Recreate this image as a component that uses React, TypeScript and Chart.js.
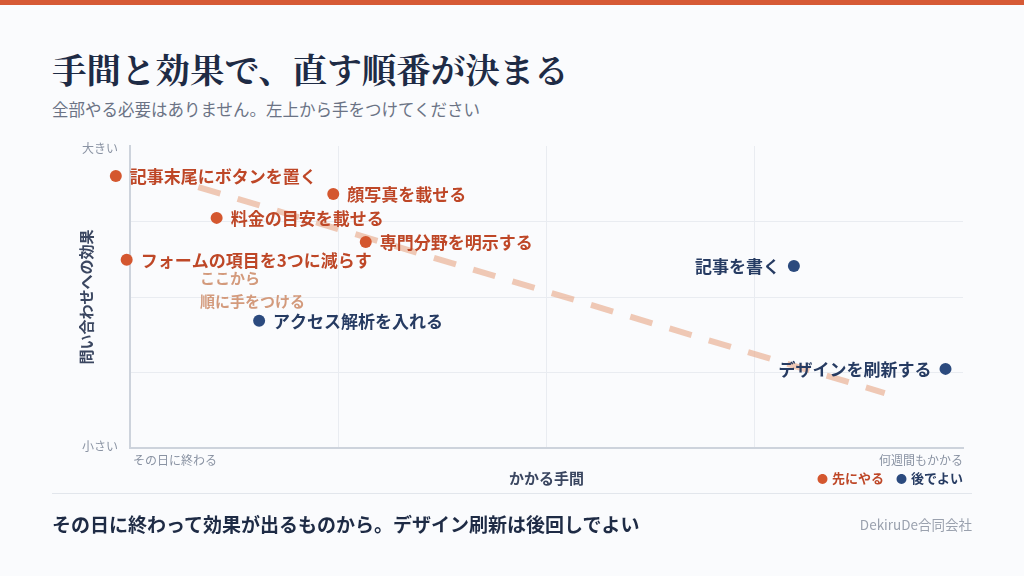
import React, { useEffect, useRef } from "react";
import { Chart, registerables } from "chart.js";

Chart.register(...registerables);

const itemLabels = [
  "記事末尾にボタンを置く",
  "顔写真を載せる",
  "料金の目安を載せる",
  "専門分野を明示する",
  "フォームの項目を3つに減らす",
  "アクセス解析を入れる",
  "記事を書く",
  "デザインを刷新する",
];
const effortValues = [-1.7, 24.4, 10.4, 28.3, -0.4, 15.5, 79.7, 97.9];
const effectValues = [90.1, 84.1, 76.2, 68.2, 62.3, 42.1, 60.3, 26.2];
const doFirst = [true, true, true, true, true, false, false, false];

const guideEffort = [8.2, 90.6];
const guideEffect = [86.4, 18.2];
const guideNoteLines = ["ここから", "順に手をつける"];
const guideNoteEffort = [8.4, 8.4];
const guideNoteEffect = [56.3, 48.7];

const xTickLabels = ["その日に終わる", "何週間もかかる"];
const yTickLabels = ["小さい", "大きい"];
const xTitle = "かかる手間";
const yTitle = "問い合わせへの効果";
const legendLabels = ["先にやる", "後でよい"];

const TITLE = "手間と効果で、直す順番が決まる";
const SUBTITLE = "全部やる必要はありません。左上から手をつけてください";
const FOOTER = "その日に終わって効果が出るものから。デザイン刷新は後回しでよい";
const COMPANY = "DekiruDe合同会社";

const ORANGE = "#D4572F";
const ORANGE_TEXT = "#BE4727";
const NAVY = "#2B4A7E";
const NAVY_TEXT = "#263B62";
const SANS = '"Noto Sans CJK JP", "Noto Sans", sans-serif';

const labelPlugin = {
  id: "labelPlugin",
  afterDatasetsDraw(chart: any) {
    const ctx = chart.ctx;
    const xs = chart.scales.x;
    const ys = chart.scales.y;
    const area = chart.chartArea;
    ctx.save();
    // point labels
    ctx.font = `bold 17px ${SANS}`;
    ctx.textBaseline = "middle";
    itemLabels.forEach((label, i) => {
      const px = xs.getPixelForValue(effortValues[i]);
      const py = ys.getPixelForValue(effectValues[i]);
      ctx.fillStyle = doFirst[i] ? ORANGE_TEXT : NAVY_TEXT;
      if (effortValues[i] > 50) {
        ctx.textAlign = "right";
        ctx.fillText(label, px - 14, py + 1);
      } else {
        ctx.textAlign = "left";
        ctx.fillText(label, px + 14, py + 1);
      }
    });
    // guide note
    ctx.font = `bold 15px ${SANS}`;
    ctx.fillStyle = "#D39A7C";
    ctx.textAlign = "left";
    guideNoteLines.forEach((t, i) => {
      ctx.fillText(t, xs.getPixelForValue(guideNoteEffort[i]), ys.getPixelForValue(guideNoteEffect[i]));
    });
    // tick labels
    ctx.font = `12px ${SANS}`;
    ctx.fillStyle = "#8A93A3";
    ctx.textAlign = "right";
    ctx.fillText(yTickLabels[1], area.left - 12, ys.getPixelForValue(100) + 2);
    ctx.fillText(yTickLabels[0], area.left - 12, ys.getPixelForValue(0) - 2);
    ctx.textAlign = "left";
    ctx.fillText(xTickLabels[0], area.left + 3, area.bottom + 12);
    ctx.textAlign = "right";
    ctx.fillText(xTickLabels[1], area.right, area.bottom + 12);
    // axis titles
    ctx.font = `bold 15px ${SANS}`;
    ctx.fillStyle = "#3A4660";
    ctx.textAlign = "center";
    ctx.fillText(xTitle, (area.left + area.right) / 2, area.bottom + 30);
    ctx.save();
    ctx.translate(area.left - 44, (area.top + area.bottom) / 2);
    ctx.rotate(-Math.PI / 2);
    ctx.fillText(yTitle, 0, 0);
    ctx.restore();
    ctx.restore();
  },
};

export default function App() {
  const canvasRef = useRef<HTMLCanvasElement | null>(null);

  useEffect(() => {
    if (!canvasRef.current) return;
    const firstPts = effortValues
      .map((x, i) => ({ x, y: effectValues[i], f: doFirst[i] }))
      .filter((p) => p.f)
      .map((p) => ({ x: p.x, y: p.y }));
    const laterPts = effortValues
      .map((x, i) => ({ x, y: effectValues[i], f: doFirst[i] }))
      .filter((p) => !p.f)
      .map((p) => ({ x: p.x, y: p.y }));
    const guidePts = guideEffort.map((x, i) => ({ x, y: guideEffect[i] }));

    const gridColor = (c: any) =>
      c.tick && (c.tick.value === 100 || c.tick.value === 0) ? "rgba(0,0,0,0)" : "#E9ECF1";

    const chart = new Chart(canvasRef.current, {
      type: "scatter",
      data: {
        datasets: [
          {
            type: "line",
            label: "guide",
            data: guidePts,
            borderColor: "rgba(233, 176, 146, 0.68)",
            borderWidth: 6,
            borderDash: [23, 18],
            borderCapStyle: "butt",
            pointRadius: 0,
            fill: false,
            clip: false,
            order: 3,
          } as any,
          {
            label: legendLabels[0],
            data: firstPts,
            backgroundColor: ORANGE,
            borderColor: ORANGE,
            pointRadius: 6,
            pointBorderWidth: 0,
            pointHoverRadius: 24,
            clip: false,
            order: 1,
          } as any,
          {
            label: legendLabels[1],
            data: laterPts,
            backgroundColor: NAVY,
            borderColor: NAVY,
            pointRadius: 6,
            pointBorderWidth: 0,
            pointHoverRadius: 24,
            clip: false,
            order: 2,
          } as any,
        ],
      },
      options: {
        responsive: false,
        animation: false,
        events: [],
        layout: { padding: { left: 130, right: 61, top: 146, bottom: 128 } },
        plugins: { legend: { display: false }, tooltip: { enabled: false } },
        scales: {
          x: {
            type: "linear",
            min: 0,
            max: 100,
            ticks: { display: false, stepSize: 25 },
            grid: { color: gridColor, drawTicks: false, lineWidth: 1 },
            border: { display: true, color: "#CDD3DC", width: 2 },
            afterFit: (s: any) => {
              s.height = 0;
            },
          },
          y: {
            type: "linear",
            min: 0,
            max: 100,
            ticks: { display: false, stepSize: 25 },
            grid: { color: gridColor, drawTicks: false, lineWidth: 1 },
            border: { display: true, color: "#CDD3DC", width: 2 },
            afterFit: (s: any) => {
              s.width = 0;
            },
          },
        },
      } as any,
      plugins: [labelPlugin],
    });
    return () => chart.destroy();
  }, []);

  const abs = (o: React.CSSProperties): React.CSSProperties => ({ position: "absolute", lineHeight: 1, whiteSpace: "nowrap", ...o });

  return (
    <div
      style={{
        position: "fixed",
        left: 0,
        top: 0,
        width: 1024,
        height: 576,
        background: "#FAFBFD",
        overflow: "hidden",
        fontFamily: SANS,
      }}
    >
      <div style={{ position: "absolute", left: 0, top: 0, width: 1024, height: 5, background: "#D65A36" }} />
      <div
        style={abs({
          left: 52,
          top: 51,
          fontSize: 34.5,
          fontWeight: 700,
          color: "#1E2B45",
          fontFamily: '"Noto Serif CJK JP", "Noto Serif JP", "IPAMincho", serif',
        })}
      >
        {TITLE}
      </div>
      <div style={abs({ left: 52, top: 101, fontSize: 16.5, color: "#6B7385" })}>{SUBTITLE}</div>
      <canvas ref={canvasRef} width={1024} height={576} style={{ position: "absolute", left: 0, top: 0 }} />
      <div style={abs({ right: 61, top: 471, fontSize: 13, fontWeight: 700, display: "flex", gap: 12 })}>
        <span style={{ color: ORANGE_TEXT }}>
          <span style={{ color: ORANGE, fontSize: 11, marginRight: 4 }}>●</span>
          {legendLabels[0]}
        </span>
        <span style={{ color: NAVY_TEXT }}>
          <span style={{ color: NAVY, fontSize: 11, marginRight: 4 }}>●</span>
          {legendLabels[1]}
        </span>
      </div>
      <div style={{ position: "absolute", left: 52, top: 493, width: 920, height: 1, background: "#E2E6EC" }} />
      <div style={abs({ left: 52, top: 514, fontSize: 19, fontWeight: 700, color: "#1E2B45" })}>{FOOTER}</div>
      <div style={abs({ right: 52, top: 518, fontSize: 13.5, color: "#9AA1AE" })}>{COMPANY}</div>
    </div>
  );
}
